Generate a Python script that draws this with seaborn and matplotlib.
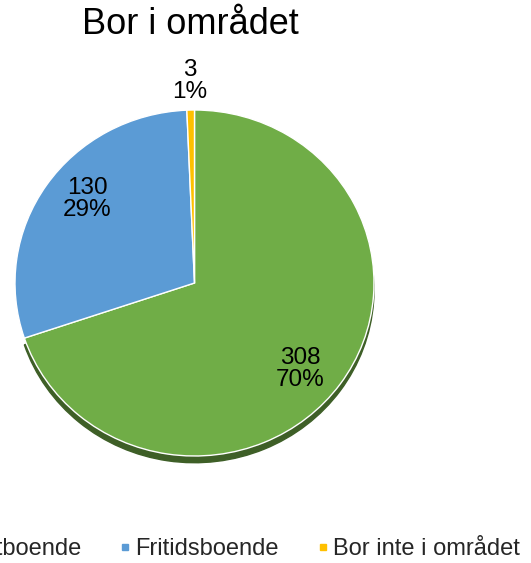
import numpy as np
import matplotlib
matplotlib.use("Agg")
import matplotlib.pyplot as plt
from matplotlib.lines import Line2D
from matplotlib.patches import Shadow
import seaborn as sns

# Data
categories = ["Permanentboende", "Fritidsboende", "Bor inte i området"]
counts = [308, 130, 3]
slice_colors = ["#70AD47", "#5B9BD5", "#FFC000"]
title = "Bor i området"

sns.set_theme(style="white")
plt.rcParams['font.family'] = ['Liberation Sans', 'DejaVu Sans']

W, H = 531, 563
fig = plt.figure(figsize=(W / 100, H / 100), dpi=100)
fig.patch.set_facecolor("white")

# pie is slightly wider than tall (3D tilt look)
cx, cy, rx, ry = 194.5, 283, 179.5, 173
ax = fig.add_axes([(cx - rx) / W, (H - cy - ry) / H, 2 * rx / W, 2 * ry / H])

wedges, _ = ax.pie(counts, colors=slice_colors, startangle=90, counterclock=False,
                   wedgeprops={'edgecolor': 'white', 'linewidth': 1.0},
                   shadow={'ox': 0.0, 'oy': -0.028, 'shade': 0.45, 'alpha': 1.0})
# keep the drop shadow only under the big green slice
for p in list(ax.patches):
    if isinstance(p, Shadow) and p.patch is not wedges[0]:
        p.remove()
ax.set_aspect('auto')
ax.set_xlim(-1, 1)
ax.set_ylim(-1, 1)
ax.axis('off')

total = sum(counts)
for w, n in zip(wedges, counts):
    share = n / total
    if share < 0.05:
        mid = np.deg2rad((w.theta1 + w.theta2) / 2)
        dist = 1.17
    else:
        mid = np.deg2rad((w.theta1 + w.theta2) / 2 - 4.5)
        dist = 0.77
    ax.text(dist * np.cos(mid), dist * np.sin(mid), f"{n}\n{share:.0%}",
            ha='center', va='center', fontsize=17.5, linespacing=1.0, color='black')

fig.text(190 / W, 1 - 24 / H, title, ha='center', va='center', fontsize=26, color='black')

handles = [Line2D([], [], marker='s', linestyle='none', markersize=5,
                  markerfacecolor=c, markeredgecolor=c) for c in slice_colors]
fig.legend(handles, categories, loc='center left', bbox_to_anchor=(-127 / W, 0.025),
           ncol=3, frameon=False, fontsize=17, handlelength=0.35, handletextpad=0.25,
           columnspacing=1.68, borderpad=0, borderaxespad=0)

fig.savefig("out.png", dpi=100, facecolor="white")
